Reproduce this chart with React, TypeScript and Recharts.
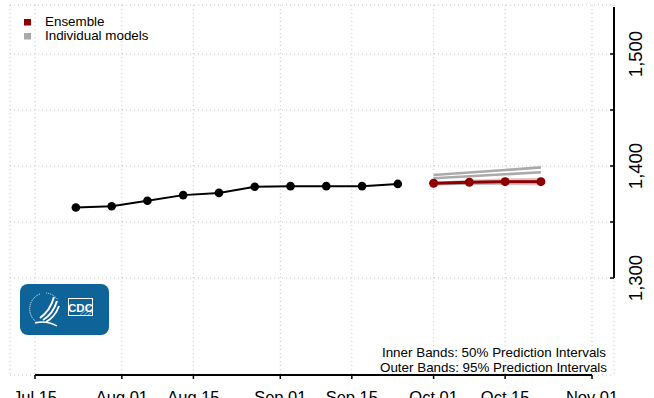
import React from 'react';
import { ComposedChart, Line, Area, XAxis, YAxis, CartesianGrid, ReferenceLine } from 'recharts';

// day numbers are counted from Jul 15
const ORIGIN = Date.UTC(2020, 6, 15);
const toDay = (s: string) => {
  const [m, d] = s.split('-').map(Number);
  return Math.round((Date.UTC(2020, m - 1, d) - ORIGIN) / 86400000);
};

const tickDates = ['07-15', '08-01', '08-15', '09-01', '09-15', '10-01', '10-15', '11-01'];
const tickLabels = ['Jul 15', 'Aug 01', 'Aug 15', 'Sep 01', 'Sep 15', 'Oct 01', 'Oct 15', 'Nov 01'];
const yTicks = [1300, 1350, 1400, 1450, 1500];
const yLabeled = [1300, 1400, 1500];

const obsDates = ['07-23', '07-30', '08-06', '08-13', '08-20', '08-27', '09-03', '09-10', '09-17', '09-24'];
const observed = [1363, 1364, 1369, 1374, 1376, 1381.5, 1382, 1382, 1382, 1384];

const fcDates = ['10-01', '10-08', '10-15', '10-22'];
const ensemble = [1384.6, 1385.5, 1386, 1386];
const pi50Low = [1383.9, 1384.4, 1384.6, 1384.3];
const pi50High = [1385.3, 1386.6, 1387.4, 1387.7];
const pi95Low = [1383.2, 1383.2, 1383.0, 1382.5];
const pi95High = [1386.0, 1387.8, 1389.0, 1389.6];
const modelA = [1392, 1394.2, 1396.4, 1398.8];
const modelB = [1389, 1390.8, 1392.6, 1394.4];
const modelC = [1383.8, 1384.4, 1384.9, 1385.2];

const xTicks = tickDates.map(toDay);

const data = [
  ...obsDates.map((d, i) => ({ x: toDay(d), observed: observed[i] })),
  ...fcDates.map((d, i) => ({
    x: toDay(d),
    ensemble: ensemble[i],
    pi50: [pi50Low[i], pi50High[i]],
    pi95: [pi95Low[i], pi95High[i]],
    modelA: modelA[i],
    modelB: modelB[i],
    modelC: modelC[i],
  })),
];

const W = 654;
const H = 398;
const AXIS_X = 614;
const AXIS_Y = 375;
const X_MIN = -4.89;
const X_MAX = 113.3;
const Y_MIN = 1213.4;
const Y_MAX = 1543.75;
const FONT = '"Liberation Sans", Arial, sans-serif';
const RED = '#8b0000';
const GRAY = '#aaaaaa';

const XTick = (props: any) => {
  const { x, payload } = props;
  const idx = xTicks.indexOf(payload.value);
  return (
    <g>
      <line x1={x} x2={x} y1={AXIS_Y} y2={AXIS_Y + 4} stroke="#000" strokeWidth={1.5} />
      <text x={x} y={AXIS_Y + 28} textAnchor="middle" fontSize={16.5} fontFamily={FONT} fill="#000">
        {tickLabels[idx]}
      </text>
    </g>
  );
};

const YTick = (props: any) => {
  const { y, payload } = props;
  const show = yLabeled.includes(payload.value);
  return (
    <g>
      <line x1={AXIS_X - 4} x2={AXIS_X} y1={y} y2={y} stroke="#000" strokeWidth={1.5} />
      {show && (
        <text
          x={642}
          y={y}
          transform={`rotate(-90, 642, ${y})`}
          textAnchor="middle"
          fontSize={18.5}
          fontFamily={FONT}
          fill="#000"
        >
          {payload.value.toLocaleString('en-US')}
        </text>
      )}
    </g>
  );
};

const Overlay = () => (
  <svg width={W} height={H} style={{ position: 'absolute', left: 0, top: 0, pointerEvents: 'none' }}>
    {/* legend */}
    <rect x={24} y={19} width={7} height={6.5} fill={RED} />
    <text x={45} y={26} fontSize={13.4} fontFamily={FONT} fill="#000">Ensemble</text>
    <rect x={24} y={33} width={7} height={6.5} fill={GRAY} />
    <text x={45} y={40} fontSize={13.4} fontFamily={FONT} fill="#000">Individual models</text>

    {/* CDC logo */}
    <rect x={20} y={284} width={89} height={51} rx={8} fill="#0e6399" />
    <path d="M40 294 A16 16 0 0 0 38 323" stroke="#fff" strokeWidth={1} strokeDasharray="1 1" fill="none" />
    <path d="M46 293 A16 16 0 0 1 58 300" stroke="#fff" strokeWidth={0.8} strokeDasharray="1 1" fill="none" />
    <path d="M40 318 Q50 311 54 297" stroke="#fff" strokeWidth={2} fill="none" />
    <path d="M43 320 Q53 314 57 301" stroke="#fff" strokeWidth={2} fill="none" />
    <path d="M46 322 Q55 317 59 306" stroke="#fff" strokeWidth={1.8} fill="none" />
    <path d="M35 323 Q46 320 57 326" stroke="#fff" strokeWidth={1.4} fill="none" />
    <rect x={68.5} y={298.5} width={24} height={17} fill="none" stroke="#fff" strokeWidth={1} />
    <path d="M80 315 L92 305 M84 315 L92 309 M88 315 L92 312" stroke="#fff" strokeWidth={0.5} />
    <text x={80.5} y={311.5} textAnchor="middle" fontSize={11.5} fontWeight="bold" fontFamily={FONT} fill="#fff">
      CDC
    </text>

    {/* note */}
    <text x={606} y={357} textAnchor="end" fontSize={13.4} fontFamily={FONT} fill="#000">
      Inner Bands: 50% Prediction Intervals
    </text>
    <text x={607} y={372} textAnchor="end" fontSize={13.4} fontFamily={FONT} fill="#000">
      Outer Bands: 95% Prediction Intervals
    </text>
  </svg>
);

export default function App() {
  return (
    <div style={{ position: 'absolute', left: 0, top: 0, width: W, height: H, background: '#fff' }}>
      <ComposedChart width={W} height={H} data={data} margin={{ top: 5, right: 0, bottom: 0, left: 10 }}>
        <CartesianGrid stroke="#c8c8c8" strokeDasharray="1 3" />
        <XAxis
          dataKey="x"
          type="number"
          domain={[X_MIN, X_MAX]}
          allowDataOverflow
          ticks={xTicks}
          interval={0}
          height={23}
          axisLine={false}
          tickLine={false}
          tick={<XTick />}
        />
        <YAxis
          orientation="right"
          type="number"
          domain={[Y_MIN, Y_MAX]}
          allowDataOverflow
          ticks={yTicks}
          interval={0}
          width={40}
          axisLine={false}
          tickLine={false}
          tick={<YTick />}
        />
        <ReferenceLine
          segment={[{ x: xTicks[0], y: Y_MIN }, { x: xTicks[xTicks.length - 1], y: Y_MIN }]}
          stroke="#000"
          strokeWidth={2}
          ifOverflow="visible"
        />
        <ReferenceLine
          segment={[{ x: X_MAX, y: 1300 }, { x: X_MAX, y: 1542 }]}
          stroke="#000"
          strokeWidth={2}
          ifOverflow="visible"
        />
        <Area dataKey="pi95" type="linear" stroke="none" fill={RED} fillOpacity={0.22} isAnimationActive={false} />
        <Area dataKey="pi50" type="linear" stroke="none" fill={RED} fillOpacity={0.32} isAnimationActive={false} />
        <Line dataKey="modelA" stroke={GRAY} strokeWidth={2.6} dot={false} isAnimationActive={false} />
        <Line dataKey="modelB" stroke={GRAY} strokeWidth={2.6} dot={false} isAnimationActive={false} />
        <Line dataKey="modelC" stroke={GRAY} strokeWidth={2.6} dot={false} isAnimationActive={false} />
        <Line
          dataKey="ensemble"
          stroke={RED}
          strokeWidth={2.8}
          dot={{ r: 4.5, fill: RED, stroke: RED, strokeWidth: 0 }}
          isAnimationActive={false}
        />
        <Line
          dataKey="observed"
          stroke="#000"
          strokeWidth={2}
          dot={{ r: 4.3, fill: '#000', stroke: '#000', strokeWidth: 0 }}
          isAnimationActive={false}
        />
      </ComposedChart>
      <Overlay />
    </div>
  );
}
